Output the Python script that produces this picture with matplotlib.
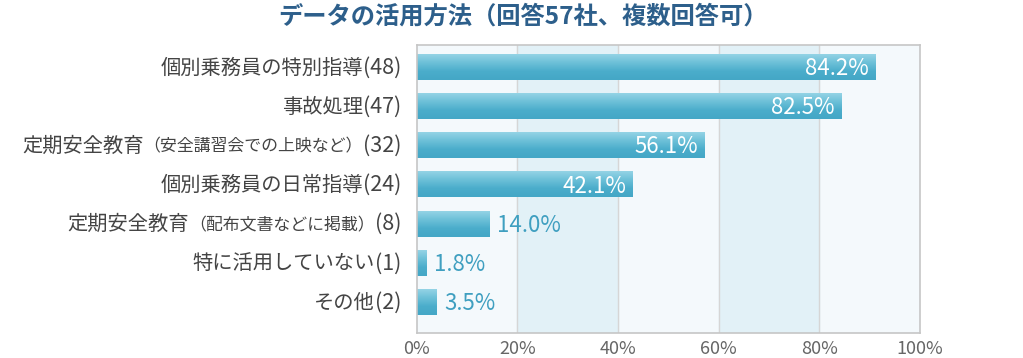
import numpy as np
import matplotlib
matplotlib.use('Agg')
import matplotlib.pyplot as plt
from matplotlib.offsetbox import TextArea, HPacker, AnnotationBbox
from matplotlib.colors import LinearSegmentedColormap

plt.rcParams['font.family'] = ['Noto Sans CJK JP', 'DejaVu Sans']

# データ
main_labels = ['個別乗務員の特別指導', '事故処理', '定期安全教育', '個別乗務員の日常指導',
               '定期安全教育', '特に活用していない', 'その他']
sub_labels = ['', '', '（安全講習会での上映など）', '', '（配布文書などに掲載）', '', '']
counts = ['(48)', '(47)', '(32)', '(24)', '(8)', '(1)', '(2)']
pct_labels = ['84.2%', '82.5%', '56.1%', '42.1%', '14.0%', '1.8%', '3.5%']
# 図上のバーの長さ（目測）
bar_values = [91.0, 84.3, 57.1, 42.8, 14.4, 1.9, 3.9]
x_ticks = [0, 20, 40, 60, 80, 100]
x_ticklabels = ['0%', '20%', '40%', '60%', '80%', '100%']

fig = plt.figure(figsize=(10.23, 3.58), dpi=100)
ax = fig.add_axes([416.7 / 1023, 25 / 358, 503.3 / 1023, 288 / 358])

ax.set_facecolor('#f4f9fc')
for x0 in (20, 60):
    ax.axvspan(x0, x0 + 20, color='#e2f1f7', zorder=0)
for x in (20, 40, 60, 80):
    ax.axvline(x, color='#d6d6d6', lw=1, zorder=1)

cmap = LinearSegmentedColormap.from_list('bar', ['#94d3e5', '#6cc0d8', '#4badcb', '#44a7c6'])
grad = np.linspace(0, 1, 64).reshape(-1, 1)
h = 0.64
for i, v in enumerate(bar_values):
    ax.imshow(grad, cmap=cmap, aspect='auto', extent=[0, v, i + h / 2, i - h / 2],
              zorder=2, interpolation='bilinear')
    if v > 30:
        ax.text(v - 1.2, i + 0.03, pct_labels[i], color='white', fontsize=16,
                ha='right', va='center', zorder=3)
    else:
        ax.text(v + 1.6, i + 0.03, pct_labels[i], color='#3f9fc0', fontsize=16,
                ha='left', va='center', zorder=3)

ax.set_xlim(0, 100)
ax.set_ylim(6.78, -0.574)
ax.set_yticks([])
ax.set_xticks(x_ticks)
ax.set_xticklabels(x_ticklabels, color='#666666', fontsize=13)
ax.tick_params(axis='x', length=0, pad=5)
for s in ax.spines.values():
    s.set_color('#c6c6c6')
    s.set_linewidth(1.2)

# 項目ラベル
for i in range(len(main_labels)):
    parts = [TextArea(main_labels[i], textprops=dict(fontsize=14.6, color='#444444'))]
    if sub_labels[i]:
        parts.append(TextArea(sub_labels[i], textprops=dict(fontsize=12.2, color='#444444')))
    parts.append(TextArea(counts[i], textprops=dict(fontsize=15.5, color='#444444')))
    box = HPacker(children=parts, align='baseline', pad=0, sep=0)
    ab = AnnotationBbox(box, (0, i), xybox=(-11, 0), xycoords='data',
                        boxcoords='offset points', box_alignment=(1, 0.5),
                        frameon=False, annotation_clip=False)
    ax.add_artist(ab)

fig.text(0.511, 0.955, 'データの活用方法（回答57社、複数回答可）', ha='center', va='center',
         fontsize=17.5, fontweight='bold', color='#2d5f8b')

fig.savefig('out.png', dpi=100)
